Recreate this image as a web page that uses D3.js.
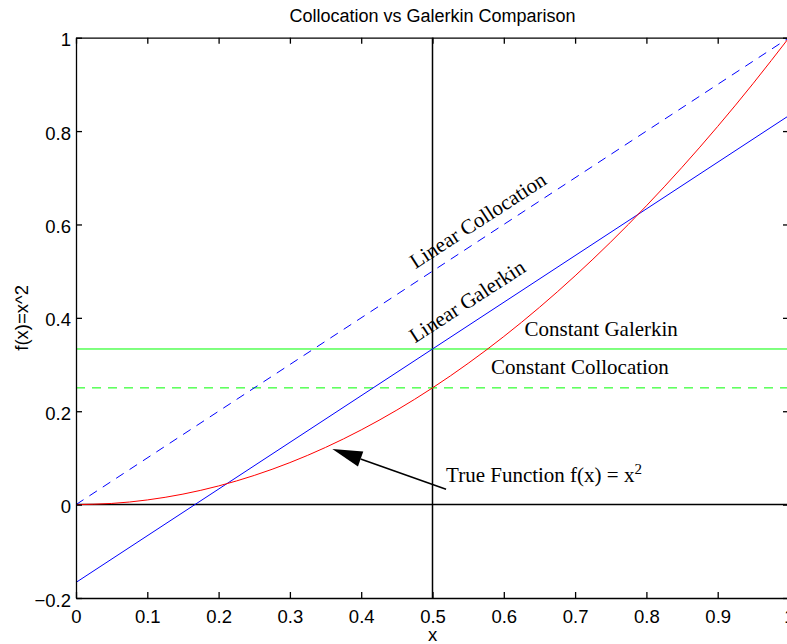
<!DOCTYPE html>
<html>
<head>
<meta charset="utf-8">
<script src="https://cdn.jsdelivr.net/npm/d3@7"></script>
<style>
  body { margin: 0; background: #fff; }
  svg { display: block; }
  .axis text { font-family: "Liberation Sans", Arial, Helvetica, sans-serif; font-size: 18.5px; fill: #000; }
  .axis path, .axis line { stroke: #000; stroke-width: 1.3; }
  .note { font-family: "Liberation Serif", "Times New Roman", serif; font-size: 21px; fill: #000; }
</style>
</head>
<body>
<svg id="chart" width="787" height="644"></svg>
<script>
// tick values
const xTicks = [0, 0.1, 0.2, 0.3, 0.4, 0.5, 0.6, 0.7, 0.8, 0.9, 1];
const yTicks = [-0.2, 0, 0.2, 0.4, 0.6, 0.8, 1];

// true function samples
const xs     = [0, 0.05, 0.1, 0.15, 0.2, 0.25, 0.3, 0.35, 0.4, 0.45, 0.5, 0.55, 0.6, 0.65, 0.7, 0.75, 0.8, 0.85, 0.9, 0.95, 1];
const trueFn = [0, 0.0025, 0.01, 0.0225, 0.04, 0.0625, 0.09, 0.1225, 0.16, 0.2025, 0.25, 0.3025, 0.36, 0.4225, 0.49, 0.5625, 0.64, 0.7225, 0.81, 0.9025, 1];

// approximations, evaluated at the ends of [0,1]
const ends          = [0, 1];
const linColloc     = [0, 1];
const linGalerkin   = [-0.1667, 0.8333];
const constGalerkin = [0.3333, 0.3333];
const constColloc   = [0.25, 0.25];

// reference lines
const zeroLine = [0, 0];
const midX     = [0.5, 0.5];
const midY     = [-0.2, 1];

// text notes (data coords)
const noteText  = ["Linear Collocation", "Linear Galerkin", "Constant Galerkin", "Constant Collocation"];
const noteX     = [0.476, 0.4755, 0.629, 0.582];
const noteY     = [0.504, 0.345, 0.361, 0.279];
const noteAngle = [-33, -33, 0, 0];

const arrowFrom = [0.519, 0.033];
const arrowTo   = [0.3595, 0.119];
const trueNote  = [0.519, 0.048];

const margin = {top: 37.7, right: -2, bottom: 46, left: 76};
const W = 787, H = 644;

const svg = d3.select("#chart");

const x = d3.scaleLinear().domain([0, 1]).range([margin.left, W - margin.right]);
const y = d3.scaleLinear().domain([-0.2, 1]).range([H - margin.bottom, margin.top]);

const fmt = d => d === 0 ? "0" : d === 1 ? "1" : d3.format(".1f")(d).replace("-", "\u2212");

// lines
const line = d3.line().x(d => x(d[0])).y(d => y(d[1]));
const zip = (a, b) => a.map((v, i) => [v, b[i]]);

const plot = svg.append("g");

function drawLine(pts, color, width, dash, curve) {
    plot.append("path")
        .attr("d", curve ? line.curve(curve)(pts) : line.curve(d3.curveLinear)(pts))
        .attr("fill", "none")
        .attr("stroke", color)
        .attr("stroke-width", width)
        .attr("stroke-dasharray", dash || null);
}

drawLine(zip(ends, zeroLine), "#000", 1.5);
drawLine(zip(midX, midY), "#000", 1.5);
drawLine(zip(ends, constGalerkin), "#00ff00", 1);
drawLine(zip(ends, constColloc), "#00ff00", 1, "9,7");
drawLine(zip(ends, linColloc), "#0000ff", 1, "9,7");
drawLine(zip(ends, linGalerkin), "#0000ff", 1);
drawLine(zip(xs, trueFn), "#ff0000", 1, null, d3.curveNatural);

// axes (inward ticks, box)
const gx = svg.append("g").attr("class", "axis")
    .attr("transform", `translate(0,${y(-0.2)})`)
    .call(d3.axisBottom(x).tickValues(xTicks).tickFormat(fmt).tickSizeInner(-6).tickSizeOuter(0).tickPadding(12));
svg.append("g").attr("class", "axis")
    .attr("transform", `translate(0,${y(1)})`)
    .call(d3.axisTop(x).tickValues(xTicks).tickFormat("").tickSizeInner(-6).tickSizeOuter(0));
const gy = svg.append("g").attr("class", "axis")
    .attr("transform", `translate(${x(0)},0)`)
    .call(d3.axisLeft(y).tickValues(yTicks).tickFormat(fmt).tickSizeInner(-6).tickSizeOuter(0).tickPadding(5));
svg.append("g").attr("class", "axis")
    .attr("transform", `translate(${x(1)},0)`)
    .call(d3.axisRight(y).tickValues(yTicks).tickFormat("").tickSizeInner(-6).tickSizeOuter(0));

gy.selectAll("text").attr("dy", "0.44em");

// titles
svg.append("text").attr("class", "axis")
    .attr("x", (x(0) + x(1)) / 2).attr("y", 22)
    .attr("text-anchor", "middle")
    .style("font-family", "'Liberation Sans', Arial, sans-serif").style("font-size", "18px")
    .text("Collocation vs Galerkin Comparison");
svg.append("text")
    .attr("x", (x(0) + x(1)) / 2).attr("y", 641)
    .attr("text-anchor", "middle")
    .style("font-family", "'Liberation Sans', Arial, sans-serif").style("font-size", "18.5px")
    .text("x");
svg.append("text")
    .attr("transform", `translate(28,${(y(-0.2) + y(1)) / 2}) rotate(-90)`)
    .attr("text-anchor", "middle")
    .style("font-family", "'Liberation Sans', Arial, sans-serif").style("font-size", "18.5px")
    .text("f(x)=x^2");

// notes
noteText.forEach((t, i) => {
    svg.append("text").attr("class", "note")
        .attr("transform", `translate(${x(noteX[i])},${y(noteY[i])}) rotate(${noteAngle[i]})`)
        .text(t);
});

const tn = svg.append("text").attr("class", "note")
    .attr("x", x(trueNote[0])).attr("y", y(trueNote[1]));
tn.append("tspan").text("True Function f(x) = x");
tn.append("tspan").attr("dy", -8).style("font-size", "15px").text("2");

// arrow
const ax0 = x(arrowFrom[0]), ay0 = y(arrowFrom[1]);
const ax1 = x(arrowTo[0]), ay1 = y(arrowTo[1]);
const len = Math.hypot(ax1 - ax0, ay1 - ay0);
const ux = (ax1 - ax0) / len, uy = (ay1 - ay0) / len;
const headL = 30, headW = 8;
const bx = ax1 - ux * headL, by = ay1 - uy * headL;
svg.append("line")
    .attr("x1", ax0).attr("y1", ay0).attr("x2", bx).attr("y2", by)
    .attr("stroke", "#000").attr("stroke-width", 1.5);
svg.append("polygon")
    .attr("points", [[ax1, ay1], [bx - uy * headW, by + ux * headW], [bx + uy * headW, by - ux * headW]].map(p => p.join(",")).join(" "))
    .attr("fill", "#000");
</script>
</body>
</html>
